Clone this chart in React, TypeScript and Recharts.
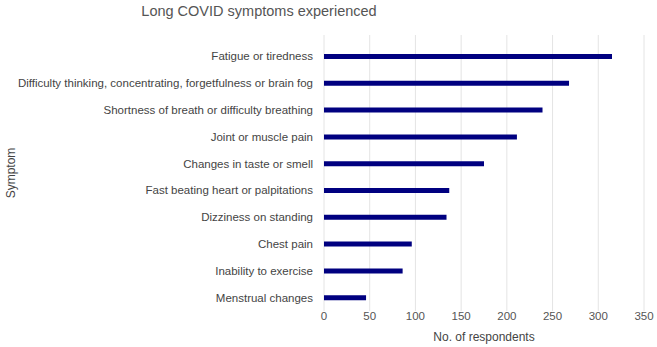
import {BarChart, Bar, XAxis, YAxis, CartesianGrid} from 'recharts';

const symptoms = [
    'Fatigue or tiredness',
    'Difficulty thinking, concentrating, forgetfulness or brain fog',
    'Shortness of breath or difficulty breathing',
    'Joint or muscle pain',
    'Changes in taste or smell',
    'Fast beating heart or palpitations',
    'Dizziness on standing',
    'Chest pain',
    'Inability to exercise',
    'Menstrual changes',
]

const respondents = [315, 268, 239, 211, 175, 137, 134, 96, 86, 46]

const xTicks = [0, 50, 100, 150, 200, 250, 300, 350]

const datas = symptoms.map((name, i) => ({name, value: respondents[i]}))

const font = '"Liberation Sans", Arial, sans-serif'

// plain text tick so the long label is not wrapped
function SymptomTick(props: any) {
    const {x, y, payload} = props
    return (
        <text x={x} y={y} dy="0.355em" textAnchor="end" fontSize={11.5} fill="#444" fontFamily={font}>
            {payload.value}
        </text>
    )
}

function App() {
    return (
        <div style={{position: 'absolute', left: 0, top: 0, width: 657, height: 347, background: '#fff', fontFamily: font}}>
            <div style={{position: 'absolute', left: 0, top: 3, width: 518, textAlign: 'center', fontSize: 14.5, color: '#555'}}>
                Long COVID symptoms experienced
            </div>
            <BarChart width={657} height={347} data={datas} layout="vertical"
                      margin={{top: 35, right: 13, bottom: 0, left: 0}}>
                <CartesianGrid horizontal={false} stroke="#e4e4e4"/>
                <XAxis type="number" domain={[0, 350]} ticks={xTicks} height={36}
                       axisLine={false} tickLine={false} tickSize={0} tickMargin={1}
                       tick={{fontSize: 11.5, fill: '#555', fontFamily: font}}
                       label={{value: 'No. of respondents', position: 'insideBottom', offset: 6, fontSize: 12, fill: '#444', fontFamily: font}}/>
                <YAxis type="category" dataKey="name" width={324} interval={0}
                       padding={{top: 8, bottom: 0}}
                       axisLine={false} tickLine={false} tickSize={0} tickMargin={11}
                       tick={<SymptomTick/>}
                       label={{value: 'Symptom', angle: -90, position: 'insideLeft', offset: 11, fontSize: 12, fill: '#444', fontFamily: font, style: {textAnchor: 'middle'}}}/>
                <Bar dataKey="value" fill="#000080" barSize={5} isAnimationActive={false}/>
            </BarChart>
        </div>
    )
}

export default App;
